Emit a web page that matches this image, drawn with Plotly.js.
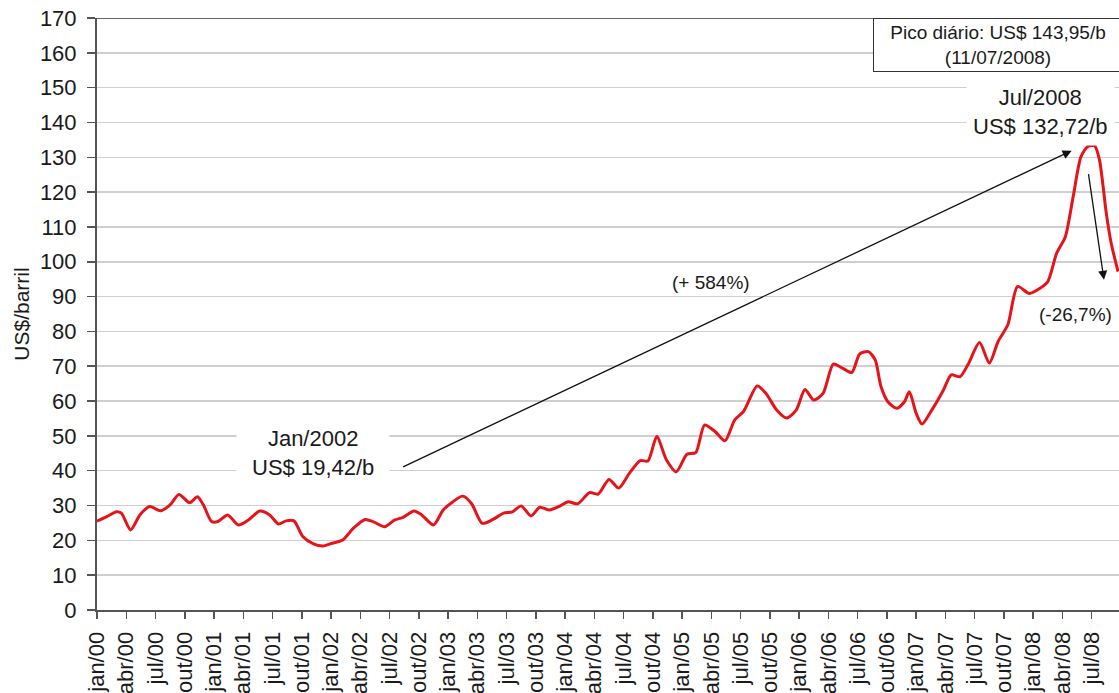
<!DOCTYPE html>
<html>
<head>
<meta charset="utf-8">
<script src="https://cdn.plot.ly/plotly-3.0.1.min.js"></script>
<style>html,body{margin:0;padding:0;background:#fff;}#chart{width:1119px;height:693px;}</style>
</head>
<body>
<div id="chart"></div>
<script>
// Months since jan/2000 (decimal) and Brent price, US$/barril
var mes = [0.0,1.0,2.0,2.5,3.45,4.4,5.4,6.5,7.5,8.4,9.5,10.3,10.9,11.75,12.4,13.4,14.5,15.5,16.7,17.7,18.6,19.4,20.2,21.1,22.2,23.2,23.9,24.7,25.2,26.3,27.5,28.3,29.5,30.5,31.4,32.5,33.3,34.5,35.5,36.5,37.5,38.4,39.5,40.6,41.7,42.6,43.5,44.5,45.4,46.4,47.5,48.3,49.3,50.5,51.4,52.5,53.5,54.6,55.7,56.5,57.4,58.4,59.4,60.5,61.4,62.3,63.4,64.4,65.4,66.3,67.7,68.6,69.7,70.7,71.7,72.6,73.5,74.45,75.5,76.3,77.4,78.2,79.1,79.8,80.4,81.1,82.0,82.8,83.3,84.0,84.6,85.6,86.8,87.6,88.5,89.3,90.5,91.5,92.4,93.4,94.4,95.6,96.7,97.5,98.4,99.3,100.1,100.9,101.6,102.3,102.8,103.5,104.0,104.7];
var preco = [25.5,26.8,28.2,27.8,23.0,27.3,29.7,28.5,30.2,33.2,30.8,32.5,30.2,25.4,25.4,27.3,24.4,25.8,28.4,27.3,24.7,25.6,25.6,21.1,19.0,18.4,19.0,19.6,20.1,23.5,26.0,25.4,23.9,25.8,26.6,28.4,27.3,24.4,28.7,31.1,32.7,30.6,24.9,26.0,27.8,28.2,29.9,27.0,29.5,28.7,29.9,31.1,30.5,33.7,33.3,37.5,35.0,39.3,42.9,42.8,49.8,43.1,39.7,44.7,45.2,53.1,51.2,48.6,54.6,57.0,64.3,62.2,57.4,55.1,57.4,63.3,60.3,62.2,70.6,69.7,68.2,73.5,74.2,71.8,64.1,59.8,57.9,59.8,62.7,56.5,53.4,57.4,63.2,67.5,67.0,70.4,76.8,70.9,77.1,81.9,92.9,90.9,92.4,94.3,102.4,107.2,118.7,130.2,133.1,133.3,129.2,113.9,105.3,97.2];

var tickPos = [0,3,6,9,12,15,18,21,24,27,30,33,36,39,42,45,48,51,54,57,60,63,66,69,72,75,78,81,84,87,90,93,96,99,102];
var tickLabels = ["jan/00","abr/00","jul/00","out/00","jan/01","abr/01","jul/01","out/01","jan/02","abr/02","jul/02","out/02","jan/03","abr/03","jul/03","out/03","jan/04","abr/04","jul/04","out/04","jan/05","abr/05","jul/05","out/05","jan/06","abr/06","jul/06","out/06","jan/07","abr/07","jul/07","out/07","jan/08","abr/08","jul/08"];

var FONT = "Liberation Sans, Arial, Helvetica, sans-serif";

var trace = {
  x: mes, y: preco, type: "scatter", mode: "lines",
  line: {color: "#e5141b", width: 3, shape: "spline", smoothing: 0.7},
  hoverinfo: "x+y"
};

var layout = {
  width: 1119, height: 693,
  margin: {l: 97, r: 0, t: 18, b: 83, pad: 0},
  paper_bgcolor: "#fff", plot_bgcolor: "#fff",
  showlegend: false,
  font: {family: FONT, color: "#1a1a1a", size: 22},
  xaxis: {
    range: [0, 104.8], tickmode: "array", tickvals: tickPos, ticktext: tickLabels,
    tickangle: -90, ticks: "outside", ticklen: 7, tickwidth: 1.5, tickcolor: "#555",
    showgrid: false, zeroline: false, showline: true, linecolor: "#555", linewidth: 2,
    tickfont: {family: FONT, size: 22, color: "#1a1a1a"}, ticklabelstandoff: 4,
    fixedrange: true
  },
  yaxis: {
    range: [0, 170], dtick: 10, tick0: 0, ticks: "outside", ticklen: 8, tickwidth: 1.5, tickcolor: "#555",
    showgrid: true, gridcolor: "#cfcfcf", gridwidth: 1.5, zeroline: false,
    showline: true, linecolor: "#555", linewidth: 2,
    tickfont: {family: FONT, size: 22, color: "#1a1a1a"}, ticklabelstandoff: 6,
    title: {text: "US$/barril", font: {family: FONT, size: 21, color: "#1a1a1a"}, standoff: 5},
    fixedrange: true
  },
  shapes: [
    {type: "line", xref: "paper", x0: 0, x1: 1, yref: "y", y0: 170, y1: 170, line: {color: "#666", width: 2}}
  ],
  annotations: [
    {x: 22.15, y: 45.1, xref: "x", yref: "y", text: "Jan/2002<br>US$ 19,42/b", showarrow: false,
     font: {family: FONT, size: 22, color: "#1a1a1a"}, bgcolor: "#fff", borderpad: 15, align: "center"},
    {x: 96.7, y: 143.0, xref: "x", yref: "y", text: "Jul/2008<br>US$ 132,72/b", showarrow: false,
     font: {family: FONT, size: 22, color: "#1a1a1a"}, bgcolor: "#fff", borderpad: 6, align: "center"},
    {x: 92.4, y: 162.3, xref: "x", yref: "y", text: "Pico diário: US$ 143,95/b<br>(11/07/2008)", showarrow: false,
     font: {family: FONT, size: 19, color: "#1a1a1a"}, bgcolor: "#fff", bordercolor: "#333", borderwidth: 1,
     borderpad: 1, width: 246, height: 50, align: "center", valign: "middle"},
    {x: 62.96, y: 94.05, xref: "x", yref: "y", text: "(+ 584%)", showarrow: false,
     font: {family: FONT, size: 19, color: "#1a1a1a"}},
    {x: 100.3, y: 85.0, xref: "x", yref: "y", text: "(-26,7%)", showarrow: false,
     font: {family: FONT, size: 19, color: "#1a1a1a"}},
    {x: 99.95, y: 131.9, xref: "x", yref: "y", ax: 31.24, ay: 40.9, axref: "x", ayref: "y", text: "",
     showarrow: true, arrowhead: 2, arrowsize: 1.4, arrowwidth: 1.3, arrowcolor: "#111", standoff: 0, startstandoff: 0},
    {x: 103.26, y: 94.8, xref: "x", yref: "y", ax: 101.65, ay: 125.6, axref: "x", ayref: "y", text: "",
     showarrow: true, arrowhead: 2, arrowsize: 1.4, arrowwidth: 1.3, arrowcolor: "#111", standoff: 0, startstandoff: 0}
  ]
};

Plotly.newPlot("chart", [trace], layout, {displayModeBar: false, staticPlot: true});
</script>
</body>
</html>
